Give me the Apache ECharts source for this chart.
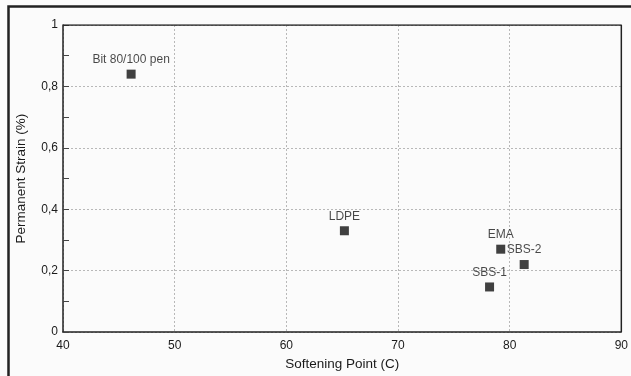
<!DOCTYPE html>
<html>
<head>
<meta charset="utf-8">
<script src="https://cdn.jsdelivr.net/npm/echarts@6/dist/echarts.min.js"></script>
<style>
html,body{margin:0;padding:0;background:#fbfbfb;}
#c{width:631px;height:376px;}
</style>
</head>
<body>
<div id="c"></div>
<script>
var names = ['Bit 80/100 pen', 'LDPE', 'EMA', 'SBS-2', 'SBS-1'];
var softeningPoint = [46.1, 65.2, 79.2, 81.3, 78.2];
var permanentStrain = [0.84, 0.33, 0.27, 0.22, 0.147];
var xTicks = [40, 50, 60, 70, 80, 90];
var yTicks = [0, 0.2, 0.4, 0.6, 0.8, 1];

var chart = echarts.init(document.getElementById('c'));
var font = 'Liberation Sans, Arial, sans-serif';
var data = names.map(function (n, i) { return { name: n, value: [softeningPoint[i], permanentStrain[i]] }; });

chart.setOption({
  backgroundColor: '#fbfbfb',
  animation: false,
  graphic: [{
    type: 'rect', left: 6, top: 4, z: 100, silent: true,
    shape: { width: 640, height: 390 },
    style: { fill: 'none', stroke: '#222', lineWidth: 2.5 }
  }],
  grid: { left: 63, top: 25, right: 7, bottom: 40, show: false },
  xAxis: {
    type: 'value', min: xTicks[0], max: xTicks[xTicks.length - 1], interval: 10,
    name: 'Softening Point (C)', nameLocation: 'middle', nameGap: 20,
    nameTextStyle: { fontFamily: font, fontSize: 13.5, color: '#1a1a1a' },
    axisLine: { show: true, onZero: false, lineStyle: { color: '#222', width: 1.5 } },
    axisTick: { show: false },
    axisLabel: { fontFamily: font, fontSize: 12, color: '#1a1a1a', margin: 8 },
    splitLine: { show: true, lineStyle: { color: '#b8b8b8', type: [2, 2], width: 1 } }
  },
  yAxis: {
    type: 'value', min: yTicks[0], max: yTicks[yTicks.length - 1], interval: 0.2,
    name: 'Permanent Strain (%)', nameLocation: 'middle', nameGap: 35,
    nameTextStyle: { fontFamily: font, fontSize: 13.5, color: '#1a1a1a' },
    axisLine: { show: true, onZero: false, lineStyle: { color: '#222', width: 1.5 } },
    axisTick: { show: true, inside: true, length: 6, lineStyle: { color: '#444' } },
    minorTick: { show: true, splitNumber: 2, length: 6, lineStyle: { color: '#444' } },
    axisLabel: {
      fontFamily: font, fontSize: 12, color: '#1a1a1a', margin: 5,
      formatter: function (v) { return String(Math.round(v * 10) / 10).replace('.', ','); }
    },
    splitLine: { show: true, lineStyle: { color: '#b8b8b8', type: [2, 2], width: 1 } }
  },
  series: [
    {
      type: 'scatter', symbol: 'rect', symbolSize: 9,
      itemStyle: { color: '#111' },
      label: {
        show: true, position: 'top', distance: 4,
        formatter: '{b}', fontFamily: font, fontSize: 12, color: '#1a1a1a'
      },
      data: data
    },
    {
      type: 'line', silent: true, symbol: 'none',
      lineStyle: { color: '#222', width: 1.5 },
      data: [[40, 1], [90, 1], [90, 0]]
    }
  ]
});
</script>
</body>
</html>
